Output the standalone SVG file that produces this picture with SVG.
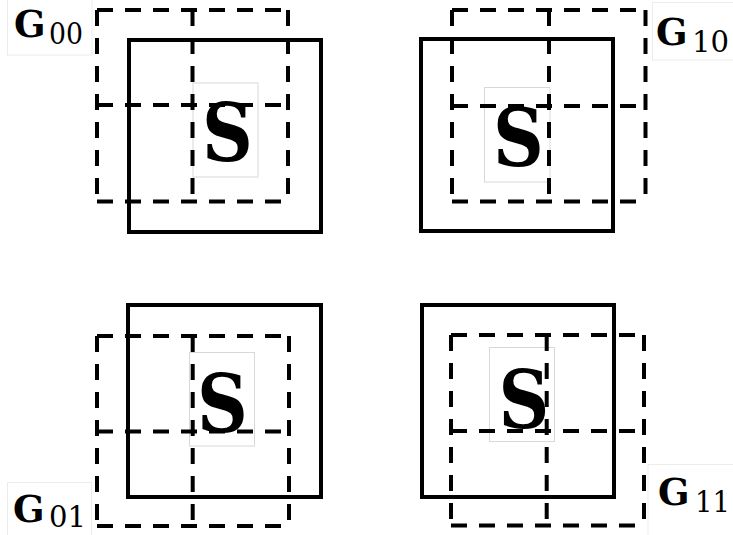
<svg xmlns="http://www.w3.org/2000/svg" width="733" height="535" viewBox="0 0 733 535">
<style>
.solid{fill:none;stroke:#000;stroke-width:4}
.dash{fill:none;stroke:#000;stroke-width:4;stroke-dasharray:16 12}
.frame{fill:none;stroke:#d8d8d8;stroke-width:1}
.lframe{fill:none;stroke:#ececec;stroke-width:1}
.S{font-family:"DejaVu Serif",serif;font-weight:bold;font-size:80px;text-anchor:middle}
.G{font-family:"DejaVu Serif",serif;font-weight:bold;font-size:37px}
.sub{font-family:"DejaVu Serif",serif;font-size:29px}
</style>
<rect width="733" height="535" fill="#fff"/>
<g id="panel00">
<rect class="lframe" x="7.5" y="-1" width="84.5" height="56"/>
<rect class="solid" x="129" y="40" width="192" height="192"/>
<rect class="frame" x="193" y="83" width="65" height="94"/>
<text class="S" transform="translate(227.5 161) scale(0.88 1)">S</text>
<text class="G" x="14" y="37">G</text>
<text class="sub" x="49" y="43.5" textLength="34" lengthAdjust="spacingAndGlyphs">00</text>
</g>
<g id="panel10">
<rect class="lframe" x="652.5" y="2.5" width="81" height="57.5"/>
<rect class="solid" x="421" y="39" width="192" height="192"/>
<rect class="frame" x="484.5" y="87.5" width="65.5" height="94.5"/>
<text class="S" transform="translate(518.5 166) scale(0.88 1)">S</text>
<text class="G" x="656" y="45" font-size="39">G</text>
<text class="sub" x="692" y="52" textLength="37" lengthAdjust="spacingAndGlyphs">10</text>
</g>
<g id="panel01">
<rect class="lframe" x="7.5" y="482.5" width="84" height="54"/>
<rect class="solid" x="128" y="305" width="193" height="192"/>
<rect class="frame" x="189.5" y="352.5" width="65" height="93.5"/>
<text class="S" transform="translate(222.5 432) scale(0.88 1)">S</text>
<text class="G" x="13" y="522" font-size="39">G</text>
<text class="sub" x="49" y="527" textLength="37" lengthAdjust="spacingAndGlyphs">01</text>
</g>
<g id="panel11">
<rect class="lframe" x="648" y="464.5" width="86" height="72"/>
<rect class="solid" x="422" y="305" width="192" height="192"/>
<rect class="frame" x="489.5" y="347.5" width="65" height="94"/>
<text class="S" transform="translate(524 427.5) scale(0.88 1)">S</text>
<text class="G" x="658" y="505" font-size="39">G</text>
<text class="sub" x="695" y="512" textLength="35" lengthAdjust="spacingAndGlyphs">11</text>
</g>
<g id="connectors">
<path class="dash" d="M97 10H288M97 10V201.5M288 10V201.5M97 201.5H288M192.5 10V201.5M97 105H288"/>
<path class="dash" d="M452 10H645.5M452 10V201.5M645.5 10V201.5M452 201.5H645.5M549 10V201.5M452 106H645.5"/>
<path class="dash" d="M97 336H289M97 336V526M289 336V526M97 526H289M192.7 336V526M97 431.5H289"/>
<path class="dash" d="M451 335H644M451 335V525.5M644 335V525.5M451 525.5H644M546.7 335V525.5M451 431H644"/>
</g>
</svg>
